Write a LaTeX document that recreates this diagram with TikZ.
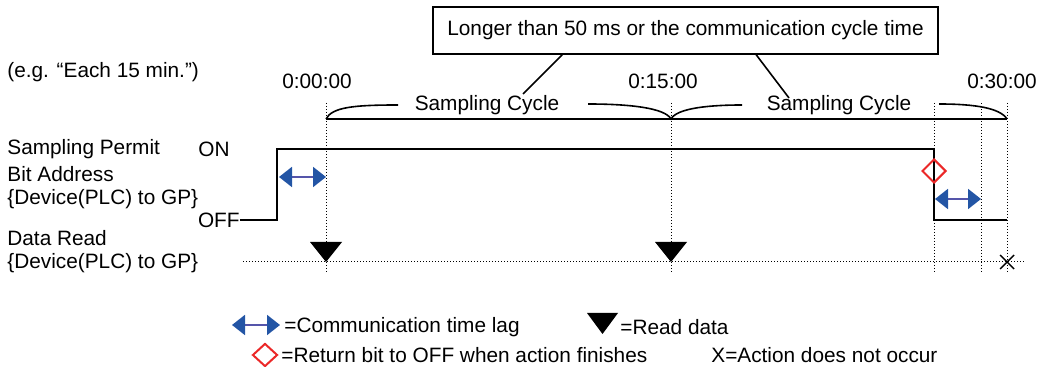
\documentclass[tikz,border=0pt]{standalone}
\usepackage{fontspec}
\setmainfont{Liberation Sans}
\usetikzlibrary{arrows.meta,positioning,shapes.geometric,calc}
\definecolor{lagblue}{RGB}{35,85,165}
\definecolor{shaftblue}{RGB}{85,85,170}
\definecolor{bitred}{RGB}{235,40,40}

\begin{document}
\begin{tikzpicture}[x=0.5pt,y=-0.5pt,
    lbl/.style={font=\fontsize{10.4}{12}\selectfont,inner sep=0pt},
    sig/.style={line width=1pt},
    dotline/.style={line width=0.5pt,dash pattern=on 0.5pt off 1pt},
    lag/.style={draw=shaftblue,line width=1pt,
      {Triangle[length=6.5pt,width=10pt,color=lagblue]}-{Triangle[length=6.5pt,width=10pt,color=lagblue]}},
    finish/.style={diamond,draw=bitred,line width=1pt,inner sep=0pt}]
        \useasboundingbox (0,0) rectangle (1054,367);
        % time columns
        \foreach \tx/\tn in {326/t0,671/t15,934/tend,981/tlag,1007/t30}{
          \coordinate (\tn) at (\tx,119);
          \draw[dotline] (\tx,103) -- (\tx,272);
        }
        \draw[dotline] (243,262) -- (1025,262);
        \draw[line width=0.9pt] (t0) -- (t30);
        \node[lbl] (lt0) at (317,81) {0:00:00};
        \node[lbl] (lt15) at (663,81) {0:15:00};
        \node[lbl] (lt30) at (1002,81) {0:30:00};
        \node[lbl,anchor=west] (every) at (7,72) {(e.g. “Each 15 min.”)};
        % braces
        \draw[line width=0.8pt] (t0) .. controls (332,107) and (355,105) .. (398,105);
        \draw[line width=0.8pt] (588,104) .. controls (630,104) and (665,108) .. (t15)
          .. controls (677,108) and (710,105) .. (742,105);
        \draw[line width=0.8pt] (939,104) .. controls (975,104) and (1000,108) .. (t30);
        \node[lbl] (cyc1) at (487,105) {Sampling Cycle};
        \node[lbl] (cyc2) at (839,105) {Sampling Cycle};
        \node[lbl,draw,line width=0.8pt,minimum width=252.5pt,minimum height=23.5pt] (note) at (685.5,30.5)
          {Longer than 50 ms or the communication cycle time};
        \coordinate (p1) at (523,94);
        \coordinate (p2) at (789,98);
        \draw[line width=0.8pt] ($(note.south west)+(130,0)$) -- (p1);
        \draw[line width=0.8pt] ($(note.south west)+(324,0)$) -- (p2);
        % signal labels
        \node[lbl,anchor=west] (perm) at (7,149) {Sampling Permit};
        \node[lbl,anchor=west] (on) at (198,149) {ON};
        \node[lbl,anchor=west] (bit) at (7,174) {Bit Address};
        \node[lbl,anchor=west] (dev1) at (7,199) {\{Device(PLC) to GP\}};
        \node[lbl,anchor=east] (off) at (240,220) {OFF};
        \node[lbl,anchor=west] (read) at (7,238) {Data Read};
        \node[lbl,anchor=west] (dev2) at (7,263) {\{Device(PLC) to GP\}};
        \draw[sig] (off.east) -- (277,220) -- (277,149) -- (934,149) -- (934,220) -- (1007,220);
        \draw[lag] (279,177) -- (326,177);
        \draw[lag] (935,199) -- (981,199);
        \node[finish,minimum width=12pt,minimum height=12pt] (ret) at (934,171) {};
        \foreach \rx in {326,671}{
          \fill (\rx,262) -- ++(-16,-20) -- ++(32,0) -- cycle;
        }
        \draw[line width=0.7pt] (1000,255) -- (1014,269) (1000,269) -- (1014,255);
        % legend
        \draw[lag] (232,325) -- (280,325);
        \node[lbl,anchor=west] (kLag) at (284,327) {=Communication time lag};
        \fill (602.5,334) -- ++(-15.5,-21) -- ++(31,0) -- cycle;
        \node[lbl,anchor=west] (kRead) at (620,327) {=Read data};
        \node[finish,minimum width=12.5pt,minimum height=11.5pt] (kRet) at (265,355) {};
        \node[lbl,anchor=west] (kRetT) at (281,355) {=Return bit to OFF when action finishes};
        \node[lbl,anchor=west] (kNo) at (711,355) {X=Action does not occur};
      \end{tikzpicture}
\end{document}
